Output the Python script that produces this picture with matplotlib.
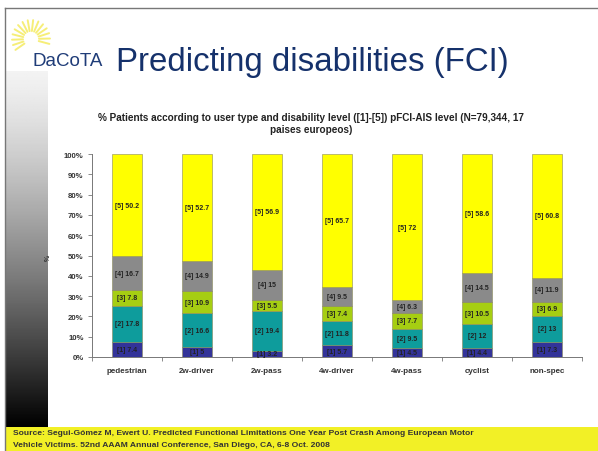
import numpy as np
import matplotlib
matplotlib.use("Agg")
import matplotlib.pyplot as plt
from matplotlib.patches import Rectangle
from matplotlib.lines import Line2D

plt.rcParams['font.family'] = ['Liberation Sans', 'DejaVu Sans']

# ---- data -------------------------------------------------------------
categories = ["pedestrian", "2w-driver", "2w-pass", "4w-driver", "4w-pass", "cyclist", "non-spec"]
level_names = ["[1]", "[2]", "[3]", "[4]", "[5]"]
level_1 = [7.4, 5, 3.2, 5.7, 4.5, 4.4, 7.3]
level_2 = [17.8, 16.6, 19.4, 11.8, 9.5, 12, 13]
level_3 = [7.8, 10.9, 5.5, 7.4, 7.7, 10.5, 6.9]
level_4 = [16.7, 14.9, 15, 9.5, 6.3, 14.5, 11.9]
level_5 = [50.2, 52.7, 56.9, 65.7, 72, 58.6, 60.8]
levels = [level_1, level_2, level_3, level_4, level_5]
level_colors = ["#333399", "#0E9C9C", "#A6CE12", "#8A8A8A", "#FFFF00"]
y_ticks = [0, 10, 20, 30, 40, 50, 60, 70, 80, 90, 100]

W, H = 598, 452
fig = plt.figure(figsize=(W / 100, H / 100), dpi=100)
fig.patch.set_facecolor("white")


def fx(px):
    return px / W


def fy(py):
    return 1 - py / H


# ---- slide decoration -------------------------------------------------
# left gradient strip
grad_ax = fig.add_axes([fx(5), fy(428), fx(48) - fx(5), fy(72) - fy(428)])
grad = np.linspace(0, 1, 256) ** 1.3
grad_ax.imshow(0.95 - 0.95 * grad[:, None], cmap="gray", vmin=0, vmax=1, aspect="auto",
               extent=[0, 1, 0, 1], origin="upper")
grad_ax.set_axis_off()

# bottom yellow source band
fig.patches.append(Rectangle((fx(5), 0), 1 - fx(5), fy(428), transform=fig.transFigure,
                             facecolor="#F2F026", edgecolor="none", zorder=0))
# frame lines
fig.lines.append(Line2D([fx(5), 1], [fy(9), fy(9)], transform=fig.transFigure,
                        color="#777777", lw=1.0))
fig.lines.append(Line2D([fx(5), fx(5)], [0, fy(9)], transform=fig.transFigure,
                        color="#777777", lw=1.0))

# sun logo rays
cx, cy = 31, 40
for ang in np.linspace(-15, 215, 15):
    a = np.deg2rad(ang)
    r0, r1 = 8, 19
    fig.lines.append(Line2D([fx(cx + r0 * np.cos(a)), fx(cx + r1 * np.cos(a))],
                            [fy(cy - r0 * np.sin(a)), fy(cy - r1 * np.sin(a))],
                            transform=fig.transFigure, color="#F6EE78", lw=1.4,
                            solid_capstyle="round"))

fig.text(fx(32), fy(61), "DaCoTA", fontsize=13.5, color="#1F3C78", va="center", ha="left")
fig.text(fx(116), fy(62), "Predicting disabilities (FCI)", fontsize=23.8, color="#15316B",
         va="center", ha="left")

fig.text(fx(13), fy(434), "Source: Segui-Gómez M, Ewert U. Predicted Functional Limitations One Year Post Crash Among European Motor",
         fontsize=6.1, fontweight="bold", color="#333333", va="center", ha="left")
fig.text(fx(13), fy(446), "Vehicle Victims. 52nd AAAM Annual Conference, San Diego, CA, 6-8 Oct. 2008",
         fontsize=6.1, fontweight="bold", color="#333333", va="center", ha="left")

# ---- chart ------------------------------------------------------------
ax = fig.add_axes([fx(92), fy(358), fx(582) - fx(92), fy(155) - fy(358)])
x = np.arange(len(categories))
bottom = np.zeros(len(categories))
for name, vals, col in zip(level_names, levels, level_colors):
    vals = np.array(vals, dtype=float)
    ax.bar(x, vals, bottom=bottom, width=0.42, color=col, edgecolor="#8A8A5A",
           linewidth=0.4, zorder=2)
    for xi, b, v in zip(x, bottom, vals):
        ax.text(xi, b + v / 2, f"{name} {v:g}", ha="center", va="center",
                fontsize=5.0, fontweight="bold", color="#222222", zorder=3)
    bottom += vals

ax.set_xlim(-0.5, len(categories) - 0.5)
ax.set_ylim(0, 100)
ax.set_yticks(y_ticks)
ax.set_yticklabels([f"{t}%" for t in y_ticks])
ax.set_xticks(x)
ax.set_xticklabels(categories)
ax.set_xticks(np.arange(-0.5, len(categories)), minor=True)
ax.tick_params(axis="x", which="major", length=0, pad=7, labelsize=5.8, labelcolor="#333333")
ax.tick_params(axis="x", which="minor", length=3, width=0.6, color="#777777", direction="out")
ax.tick_params(axis="y", length=3, width=0.6, color="#777777", pad=3, labelsize=5.6,
               labelcolor="#333333")
for lab in ax.get_xticklabels() + ax.get_yticklabels():
    lab.set_fontweight("bold")
for side in ["top", "right"]:
    ax.spines[side].set_visible(False)
for side in ["left", "bottom"]:
    ax.spines[side].set_color("#777777")
    ax.spines[side].set_linewidth(0.7)
ax.set_facecolor("none")

fig.text(fx(48), fy(258), "%", fontsize=5, rotation=90, color="#333333", fontweight="bold",
         ha="center", va="center")

fig.text(fx(311), fy(124),
         "% Patients according to user type and disability level ([1]-[5]) pFCI-AIS level (N=79,344, 17\npaises europeos)",
         fontsize=7.2, fontweight="bold", color="#222222", ha="center", va="center",
         linespacing=1.25)

fig.savefig("out.png", dpi=100)
